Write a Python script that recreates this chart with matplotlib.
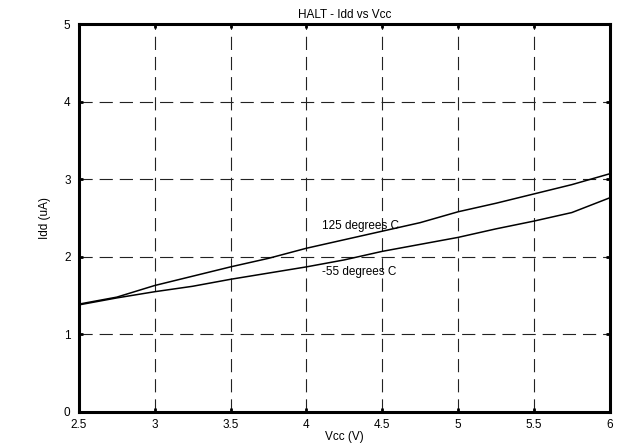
import matplotlib
matplotlib.use("Agg")
import matplotlib.pyplot as plt

plt.rcParams['font.family'] = ['Liberation Sans', 'DejaVu Sans']
plt.rcParams['lines.scale_dashes'] = False

vcc = [2.5, 2.75, 3.0, 3.25, 3.5, 3.75, 4.0, 4.25, 4.5, 4.75, 5.0, 5.25, 5.5, 5.75, 6.0]
idd_125 = [1.39, 1.48, 1.63, 1.75, 1.87, 1.98, 2.11, 2.22, 2.33, 2.44, 2.58, 2.69, 2.81, 2.93, 3.07]
idd_m55 = [1.38, 1.47, 1.55, 1.62, 1.71, 1.79, 1.87, 1.96, 2.07, 2.16, 2.25, 2.36, 2.46, 2.57, 2.76]
xticks = [2.5, 3, 3.5, 4, 4.5, 5, 5.5, 6]
xticklabels = ['2.5', '3', '3.5', '4', '4.5', '5', '5.5', '6']
yticks = [0, 1, 2, 3, 4, 5]
label_125 = "125 degrees C"
label_m55 = "-55 degrees C"

FS = 8.5

fig = plt.figure(figsize=(6.26, 4.48), dpi=100)
ax = fig.add_axes([0.126, 0.0804, 0.848, 0.866])

ax.plot(vcc, idd_125, color='black', lw=1.1)
ax.plot(vcc, idd_m55, color='black', lw=1.1)

ax.set_xlim(2.5, 6)
ax.set_ylim(0, 5)
ax.set_xticks(xticks)
ax.set_xticklabels(xticklabels)
ax.set_yticks(yticks)

ax.grid(True, color='#222222', lw=0.8, linestyle=(0, (9.5, 5)))
ax.tick_params(direction='in', length=3, width=2, labelsize=FS, top=True, right=True)
ax.tick_params(axis='x', pad=5)
ax.tick_params(axis='y', pad=6)
for s in ax.spines.values():
    s.set_linewidth(2.2)

ax.text(4.1, 2.40, label_125, fontsize=FS, va='center', ha='left')
ax.text(4.1, 1.80, label_m55, fontsize=FS, va='center', ha='left')

ax.set_title("HALT - Idd vs Vcc", fontsize=FS, pad=4)
ax.set_xlabel("Vcc (V)", fontsize=FS, labelpad=0)
ax.set_ylabel("Idd (uA)", fontsize=FS, labelpad=9)

fig.savefig("out.png", dpi=100)
